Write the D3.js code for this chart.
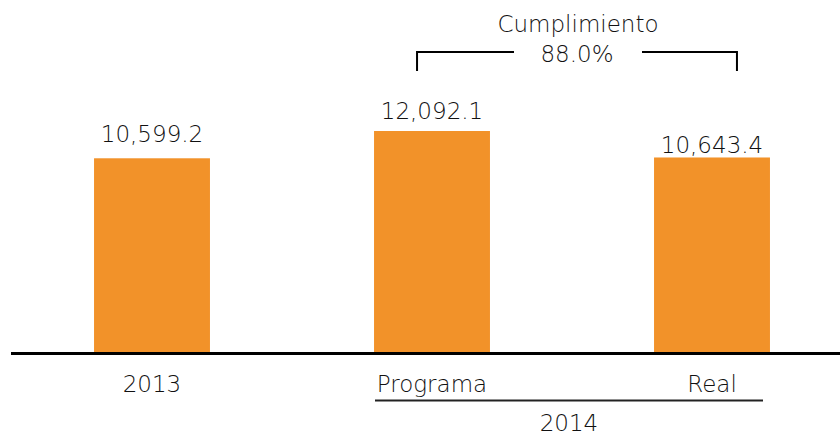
<!DOCTYPE html>
<html>
<head>
<meta charset="utf-8">
<script src="https://cdn.jsdelivr.net/npm/d3@7"></script>
<style>
  body { margin: 0; background: #fff; }
  text { font-family: "DejaVu Sans", sans-serif; font-weight: 200; fill: #111; }
</style>
</head>
<body>
<div id="chart"></div>
<script>
// data
const categories = ['2013', 'Programa', 'Real']
const values = [10599.2, 12092.1, 10643.4]
const groupLabel = '2014'
const bracketTitle = 'Cumplimiento'
const bracketValue = '88.0%'

// label gap above each bar (the original puts them a bit unevenly)
const labelGap = [16, 12, 4]

const width = 840, height = 435
const baseY = 352

const svg = d3.select('#chart')
    .append('svg')
        .attr('width', width)
        .attr('height', height)

const x = d3.scaleBand()
    .domain(categories)
    .range([12, 852])
    .paddingInner(0.586)
    .paddingOuter(0.293)

const y = d3.scaleLinear()
    .domain([0, 19260])
    .range([baseY, 0])

const fmt = d3.format(',.1f')

svg.selectAll('rect.bar')
    .data(values)
    .join('rect')
        .attr('class', 'bar')
        .attr('x', (d, i) => x(categories[i]))
        .attr('y', d => y(d))
        .attr('width', x.bandwidth())
        .attr('height', d => baseY - y(d))
        .attr('fill', '#f29229')

svg.selectAll('text.val')
    .data(values)
    .join('text')
        .attr('class', 'val')
        .attr('x', (d, i) => x(categories[i]) + x.bandwidth() / 2)
        .attr('y', (d, i) => y(d) - labelGap[i])
        .attr('text-anchor', 'middle')
        .style('font-size', '23px')
        .text(d => fmt(d))

// baseline
svg.append('line')
    .attr('x1', 11).attr('x2', width)
    .attr('y1', baseY + 1.5).attr('y2', baseY + 1.5)
    .attr('stroke', '#000')
    .attr('stroke-width', 3)

// category labels
svg.selectAll('text.cat')
    .data(categories)
    .join('text')
        .attr('class', 'cat')
        .attr('x', d => x(d) + x.bandwidth() / 2)
        .attr('y', 392)
        .attr('text-anchor', 'middle')
        .style('font-size', '23px')
        .text(d => d)

// 2014 group underline + label
let gx1 = 375, gx2 = 763
svg.append('line')
    .attr('x1', gx1).attr('x2', gx2)
    .attr('y1', 400.5).attr('y2', 400.5)
    .attr('stroke', '#222')
    .attr('stroke-width', 2)
svg.append('text')
    .attr('x', (gx1 + gx2) / 2)
    .attr('y', 431)
    .attr('text-anchor', 'middle')
    .style('font-size', '23px')
    .text(groupLabel)

// cumplimiento bracket
let bx1 = x('Programa') + 43, bx2 = x('Real') + x.bandwidth() - 33
let by = 52
svg.append('path')
    .attr('d', `M${bx1},71V${by}H514M642,${by}H${bx2}V71`)
    .attr('fill', 'none')
    .attr('stroke', '#000')
    .attr('stroke-width', 2)
svg.append('text')
    .attr('x', 578)
    .attr('y', 32)
    .attr('text-anchor', 'middle')
    .style('font-size', '23px')
    .text(bracketTitle)
svg.append('text')
    .attr('x', 577)
    .attr('y', 62)
    .attr('text-anchor', 'middle')
    .style('font-size', '23px')
    .text(bracketValue)
</script>
</body>
</html>
